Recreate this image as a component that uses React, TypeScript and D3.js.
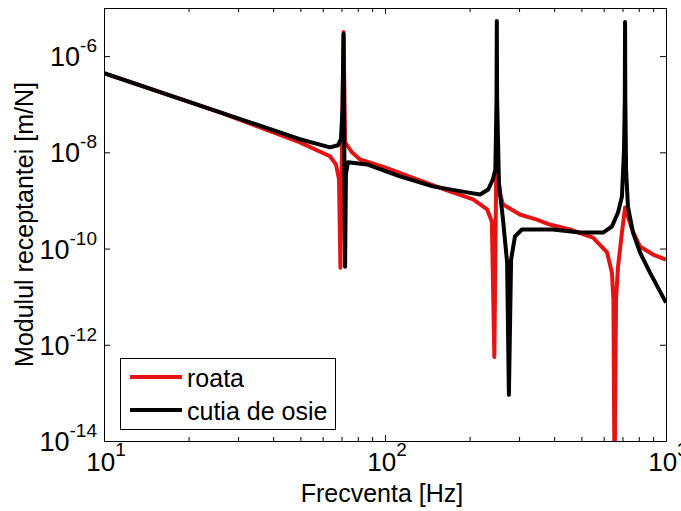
import React, { useEffect, useRef } from "react";
import * as d3 from "d3";

// roata (red) - frequency [Hz] and receptance modulus [m/N]
const freqRoata = [
  10, 25.9, 49.8, 63.7, 66.9, 68.6, 69.4, 71.2, 72.1, 76.3, 81.5, 100, 130, 170,
  206, 231, 240, 245, 249, 257, 263, 302, 347, 386, 455, 550, 617, 642, 650, 656,
  664, 675, 697, 715, 757, 808, 899, 1000,
];
const modRoata = [
  4.43e-7, 6.8e-8, 1.61e-8, 8.3e-9, 5.6e-9, 2.74e-9, 4.0e-11, 3.16e-6, 1.61e-8,
  1.0e-8, 7.1e-9, 4.87e-9, 2.74e-9, 1.54e-9, 1.05e-9, 6.5e-10, 3.65e-10, 5.6e-13,
  7.1e-9, 1.33e-9, 8.3e-10, 5.1e-10, 4.0e-10, 3.16e-10, 2.49e-10, 1.69e-10,
  8.3e-11, 3.16e-11, 8.7e-12, 1e-15, 8.7e-12, 4.2e-11, 2.15e-10, 7.1e-10,
  2.49e-10, 1.1e-10, 7.5e-11, 5.9e-11,
];

// cutia de osie (black)
const freqCutia = [
  10, 25.9, 49.8, 63.7, 68.0, 69.7, 70.6, 71.2, 72.1, 72.6, 73.8, 86.3, 113, 148,
  196, 218, 233, 242, 247, 249.4, 250, 250.6, 254.5, 263, 272, 276, 281, 290, 307,
  396, 494, 597, 642, 675, 697, 709, 713.5, 715, 716.5, 721, 732, 763, 808, 877,
  1000,
];
const modCutia = [
  4.43e-7, 6.8e-8, 1.87e-8, 1.27e-8, 1.4e-8, 1.87e-8, 7.9e-8, 2.87e-6, 4.2e-11,
  3.5e-9, 6.2e-9, 5.6e-9, 3.16e-9, 1.96e-9, 1.47e-9, 1.33e-9, 1.69e-9, 2.74e-9,
  4.4e-9, 1.3e-7, 5.36e-6, 1.3e-7, 2.15e-9, 4.0e-10, 5.1e-11, 9.1e-14, 5.9e-11,
  1.78e-10, 2.49e-10, 2.49e-10, 2.15e-10, 2.15e-10, 2.87e-10, 5.6e-10, 1.21e-9,
  1.15e-8, 1.3e-7, 5.1e-6, 1.3e-7, 4.4e-9, 7.5e-10, 2.15e-10, 8.3e-11, 3.16e-11,
  7.5e-12,
];

const seriesNames = ["roata", "cutia de osie"];
const seriesColors = ["#e41414", "#000000"];
const xTickExps = [1, 2, 3];
const yTickExps = [-14, -12, -10, -8, -6];
const xLabel = "Frecventa [Hz]";
const yLabel = "Modulul receptantei [m/N]";

export default function App() {
  const svgRef = useRef(null);

  useEffect(() => {
    drawChart(svgRef.current);
  }, []);

  return (
    <svg
      ref={svgRef}
      width={681}
      height={511}
      style={{ position: "absolute", left: 0, top: 0 }}
    />
  );
}

function drawChart(node: SVGSVGElement | null) {
  if (!node) return;
  const w = 681;
  const h = 511;
  const left = 104;
  const right = 666;
  const top = 8;
  const bottom = 441;
  const font = "'Liberation Sans', Arial, Helvetica, sans-serif";

  const svg = d3.select(node);
  svg.selectAll("*").remove();
  svg.append("rect").attr("width", w).attr("height", h).attr("fill", "#fff");

  const x = d3.scaleLog().domain([10, 1000]).range([left, right]);
  const y = d3.scaleLog().domain([1e-14, 1e-5]).range([bottom, top]);

  svg
    .append("defs")
    .append("clipPath")
    .attr("id", "plot-clip")
    .append("rect")
    .attr("x", left)
    .attr("y", top)
    .attr("width", right - left)
    .attr("height", bottom - top);

  const series = [
    { freq: freqRoata, mod: modRoata },
    { freq: freqCutia, mod: modCutia },
  ];

  const line = d3
    .line<[number, number]>()
    .x((d) => x(d[0]))
    .y((d) => y(d[1]));

  const plot = svg.append("g").attr("clip-path", "url(#plot-clip)");
  series.forEach((s, i) => {
    const pts = s.freq.map((f, j) => [f, s.mod[j]] as [number, number]);
    plot
      .append("path")
      .datum(pts)
      .attr("fill", "none")
      .attr("stroke", seriesColors[i])
      .attr("stroke-width", 4)
      .attr("stroke-linejoin", "round")
      .attr("d", line);
  });

  // axes: box with inward ticks on all four sides
  const majorX = xTickExps.map((e) => Math.pow(10, e));
  const minorX = x.ticks().filter((t) => !majorX.includes(t));
  const majorY = yTickExps.map((e) => Math.pow(10, e));

  const axisStyle = (g) => {
    g.selectAll("path").attr("stroke", "#000").attr("stroke-width", 1);
    g.selectAll("line").attr("stroke", "#000").attr("stroke-width", 1);
    g.selectAll("text").remove();
  };

  svg
    .append("g")
    .attr("transform", `translate(0,${bottom})`)
    .call(d3.axisBottom(x).tickValues(minorX).tickSize(-4).tickSizeOuter(0))
    .call(axisStyle);
  svg
    .append("g")
    .attr("transform", `translate(0,${bottom})`)
    .call(d3.axisBottom(x).tickValues(majorX).tickSize(-6).tickSizeOuter(0))
    .call(axisStyle);
  svg
    .append("g")
    .attr("transform", `translate(0,${top})`)
    .call(d3.axisTop(x).tickValues(minorX).tickSize(-4).tickSizeOuter(0))
    .call(axisStyle);
  svg
    .append("g")
    .attr("transform", `translate(0,${top})`)
    .call(d3.axisTop(x).tickValues(majorX).tickSize(-6).tickSizeOuter(0))
    .call(axisStyle);
  svg
    .append("g")
    .attr("transform", `translate(${left},0)`)
    .call(d3.axisLeft(y).tickValues(majorY).tickSize(-6).tickSizeOuter(0))
    .call(axisStyle);
  svg
    .append("g")
    .attr("transform", `translate(${right},0)`)
    .call(d3.axisRight(y).tickValues(majorY).tickSize(-6).tickSizeOuter(0))
    .call(axisStyle);

  // tick labels with superscript exponents
  yTickExps.forEach((e) => {
    const t = svg
      .append("text")
      .attr("x", left - 7)
      .attr("y", y(Math.pow(10, e)) + 10)
      .attr("text-anchor", "end")
      .attr("font-family", font)
      .attr("font-size", 27)
      .attr("fill", "#000");
    t.append("tspan").text("10");
    t.append("tspan").attr("dy", -14).attr("font-size", 19).text(String(e));
  });

  xTickExps.forEach((e) => {
    const t = svg
      .append("text")
      .attr("x", x(Math.pow(10, e)) + 2)
      .attr("y", 471)
      .attr("text-anchor", "middle")
      .attr("font-family", font)
      .attr("font-size", 26)
      .attr("fill", "#000");
    t.append("tspan").text("10");
    t.append("tspan").attr("dy", -15).attr("font-size", 19).text(String(e));
  });

  // axis titles
  svg
    .append("text")
    .attr("x", (left + right) / 2 - 3)
    .attr("y", 502)
    .attr("text-anchor", "middle")
    .attr("font-family", font)
    .attr("font-size", 25)
    .attr("fill", "#000")
    .text(xLabel);

  svg
    .append("text")
    .attr("transform", `translate(33,${(top + bottom) / 2}) rotate(-90)`)
    .attr("text-anchor", "middle")
    .attr("font-family", font)
    .attr("font-size", 25)
    .attr("fill", "#000")
    .text(yLabel);

  // legend
  const lg = svg.append("g").attr("transform", "translate(120,358)");
  lg.append("rect")
    .attr("x", 0.5)
    .attr("y", 0.5)
    .attr("width", 215)
    .attr("height", 71)
    .attr("fill", "#fff")
    .attr("stroke", "#000")
    .attr("stroke-width", 1);
  seriesNames.forEach((name, i) => {
    const cy = 19 + i * 33;
    lg.append("line")
      .attr("x1", 10)
      .attr("x2", 62)
      .attr("y1", cy)
      .attr("y2", cy)
      .attr("stroke", seriesColors[i])
      .attr("stroke-width", 4);
    lg.append("text")
      .attr("x", 67)
      .attr("y", cy + 10)
      .attr("font-family", font)
      .attr("font-size", 25)
      .attr("fill", "#000")
      .text(name);
  });
}
